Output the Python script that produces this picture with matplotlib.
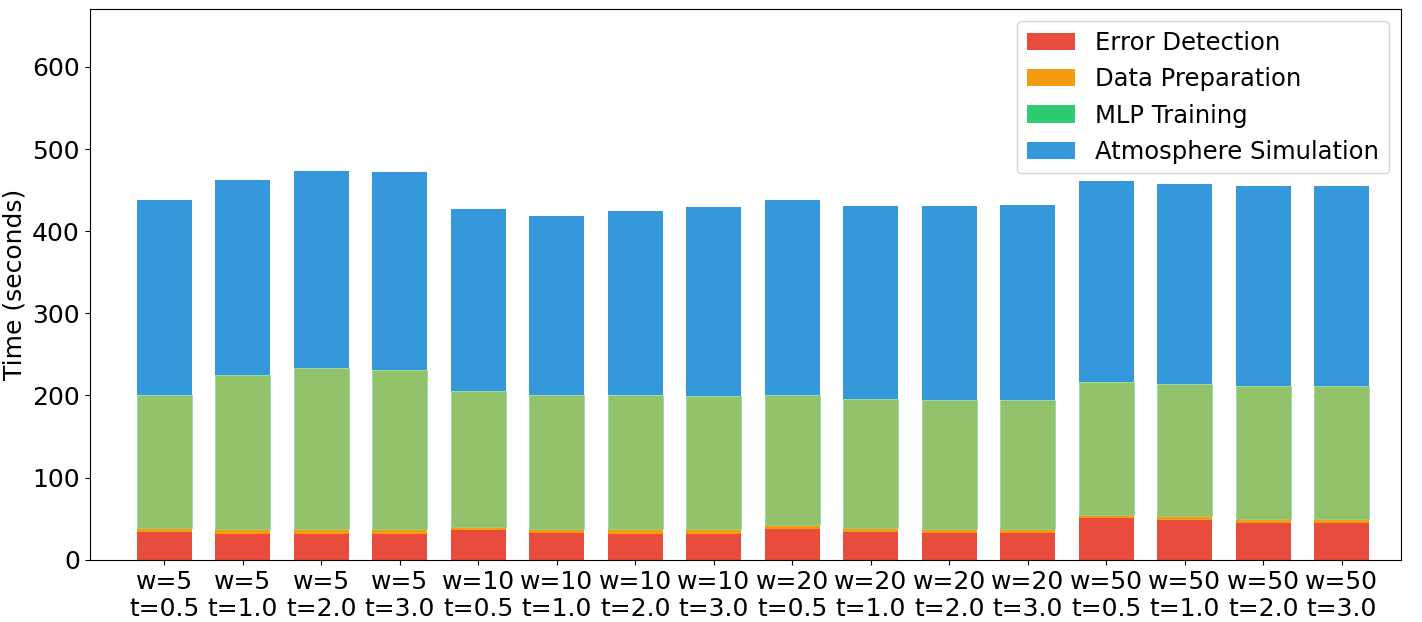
import numpy as np
from matplotlib import pyplot as plt

labels = ["w=5\nt=0.5", "w=5\nt=1.0", "w=5\nt=2.0", "w=5\nt=3.0",
          "w=10\nt=0.5", "w=10\nt=1.0", "w=10\nt=2.0", "w=10\nt=3.0",
          "w=20\nt=0.5", "w=20\nt=1.0", "w=20\nt=2.0", "w=20\nt=3.0",
          "w=50\nt=0.5", "w=50\nt=1.0", "w=50\nt=2.0", "w=50\nt=3.0"]
error_det = [34, 32, 32, 32, 36, 33, 32, 32, 37, 34, 33, 33, 51, 48, 45, 45]
data_prep = [5, 5, 5, 5, 4, 5, 5, 5, 5, 5, 5, 5, 4, 5, 5, 5]
mlp_top = [200, 225, 233, 231, 205, 200, 200, 199, 201, 196, 195, 194, 216, 214, 211, 211]
total = [438, 462, 473, 472, 427, 419, 424, 430, 438, 431, 431, 432, 461, 458, 455, 455]

error_det = np.array(error_det)
data_prep = np.array(data_prep)
mlp = np.array(mlp_top) - error_det - data_prep
atmo = np.array(total) - np.array(mlp_top)

fig, ax = plt.subplots(figsize=(14.22, 6.22), dpi=100)
x = np.arange(len(labels))
w = 0.7
ax.bar(x, error_det, w, color="#e74c3c", label="Error Detection")
ax.bar(x, data_prep, w, bottom=error_det, color="#f39c12", label="Data Preparation")
b2 = error_det + data_prep
ax.bar(x, mlp, w, bottom=b2, color="#93c26b", edgecolor="#7fdca0", linewidth=0.5)
ax.bar([0], [0], w, color="#2ecc71", label="MLP Training")
ax.bar(x, atmo, w, bottom=b2 + mlp, color="#3498db", label="Atmosphere Simulation")

ax.set_xticks(x)
ax.set_xticklabels(labels, fontsize=18)
ax.tick_params(axis="y", labelsize=18)
ax.set_ylabel("Time (seconds)", fontsize=18)
ax.set_ylim(0, 670)
ax.set_xlim(-0.95, 15.75)
ax.legend(fontsize=17.5, loc="upper right")
plt.subplots_adjust(left=0.063, right=0.985, top=0.985, bottom=0.1)
plt.savefig("out.png")
